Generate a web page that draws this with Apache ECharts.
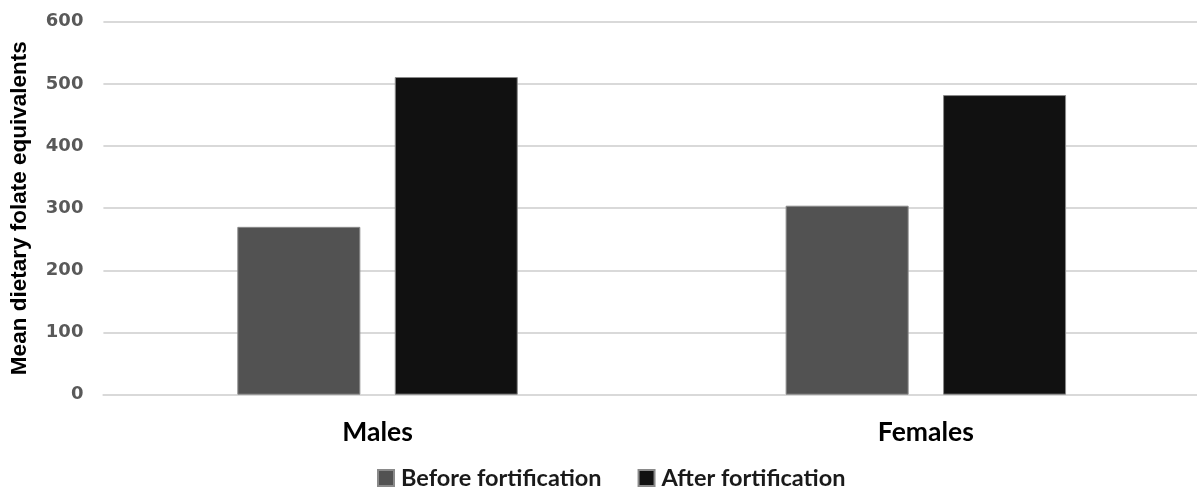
<!DOCTYPE html>
<html>
<head>
<meta charset="utf-8">
<script src="https://cdn.jsdelivr.net/npm/echarts@6/dist/echarts.min.js"></script>
<style>
html,body{margin:0;padding:0;background:#fff;}
#chart{width:1197px;height:488px;}
</style>
</head>
<body>
<div id="chart"></div>
<script>
const categories = ["Males", "Females"];
const seriesNames = ["Before fortification", "After fortification"];
const beforeValues = [270, 304];
const afterValues = [511, 482];
const yTicks = [0, 100, 200, 300, 400, 500, 600];

const chart = echarts.init(document.getElementById('chart'), null, {renderer: 'canvas'});
const option = {
  backgroundColor: '#ffffff',
  animation: false,
  grid: {left: 103.4, right: -3, top: 21.7, bottom: 93.3, containLabel: false, outerBoundsMode: 'none'},
  legend: {
    data: seriesNames,
    left: 377,
    top: 466,
    padding: 0,
    itemWidth: 16,
    itemHeight: 16,
    itemGap: 36,
    icon: 'rect',
    textStyle: {fontFamily: 'Lato', fontWeight: 'bold', fontSize: 23.5, color: '#1a1a1a', padding: [0,0,0,2]}
  },
  xAxis: {
    type: 'category',
    data: categories,
    axisLine: {show: true, lineStyle: {color: '#d9d9d9', width: 2}},
    axisTick: {show: false},
    axisLabel: {fontFamily: 'Lato', fontWeight: 'bold', fontSize: 26.5, color: '#000', margin: 24}
  },
  yAxis: {
    type: 'value',
    min: yTicks[0],
    max: yTicks[yTicks.length - 1],
    interval: 100,
    name: 'Mean dietary folate equivalents',
    nameLocation: 'middle',
    nameGap: 72,
    nameTextStyle: {fontFamily: 'Liberation Sans', fontWeight: 'bold', fontSize: 22.5, color: '#000'},
    axisLine: {show: false},
    axisTick: {show: false},
    splitLine: {lineStyle: {color: '#d9d9d9', width: 2}},
    axisLabel: {fontFamily: 'DejaVu Sans', fontWeight: 'bold', fontSize: 18, color: '#595959', margin: 20}
  },
  series: [
    {
      name: seriesNames[0],
      type: 'bar',
      data: beforeValues,
      barWidth: 123,
      barGap: '28%',
      itemStyle: {color: '#525252', borderColor: '#8a8a8a', borderWidth: 1}
    },
    {
      name: seriesNames[1],
      type: 'bar',
      data: afterValues,
      barWidth: 123,
      barGap: '28%',
      itemStyle: {color: '#111111', borderColor: '#8a8a8a', borderWidth: 1}
    }
  ]
};
chart.setOption(option);
</script>
</body>
</html>
